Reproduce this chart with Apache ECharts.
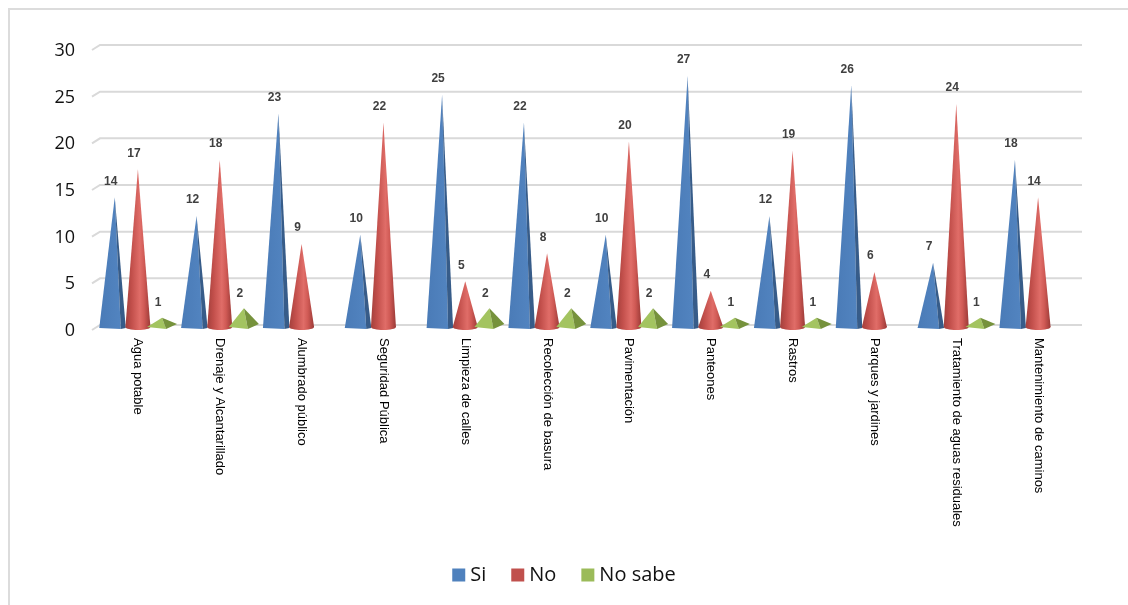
<!DOCTYPE html>
<html>
<head>
<meta charset="utf-8">
<script src="https://cdn.jsdelivr.net/npm/echarts@6/dist/echarts.min.js"></script>
<style>
  html, body { margin: 0; padding: 0; background: #fff; }
  #wrap { position: relative; width: 1128px; height: 605px; overflow: hidden; }
  #frame { position: absolute; left: 8px; top: 8px; width: 2000px; height: 2000px;
           border-left: 2px solid #dcdcdc; border-top: 2px solid #dcdcdc; }
  #chart { position: absolute; left: 0; top: 0; width: 1128px; height: 605px; }
</style>
</head>
<body>
<div id="wrap">
  <div id="frame"></div>
  <div id="chart"></div>
</div>
<script>
// Servicios públicos: respuestas por servicio
const categories = [
  'Agua potable', 'Drenaje y Alcantarillado', 'Alumbrado público', 'Seguridad Pública',
  'Limpieza de calles', 'Recolección de basura', 'Pavimentación', 'Panteones',
  'Rastros', 'Parques y jardines', 'Tratamiento de aguas residuales', 'Mantenimiento de caminos'
];
const si      = [14, 12, 23, 10, 25, 22, 10, 27, 12, 26, 7, 18];
const no      = [17, 18, 9, 22, 5, 8, 20, 4, 19, 6, 24, 14];
const noSabe  = [1, 2, null, null, 2, 2, 2, 1, 1, null, 1, null];
const yTicks  = [0, 5, 10, 15, 20, 25, 30];

const seriesNames = ['Si', 'No', 'No sabe'];
const colors = ['#4f81bd', '#c0504d', '#9bbb59'];

const G = echarts.graphic;
const DEPTH = 3;          // marks sit slightly in front of the back wall
const offsets = [-0.283, 0, 0.295];

function valueLabel(x, y, v) {
  return {
    type: 'text', z2: 10,
    style: {
      text: String(v), x: x - 4, y: y - 10,
      align: 'center', verticalAlign: 'bottom',
      font: 'bold 12px "Liberation Sans", Arial, sans-serif',
      fill: '#404040'
    }
  };
}

function renderCone(params, api) {
  const cat = api.value(0);
  const val = api.value(1);
  if (val == null || isNaN(val)) return;
  const s = params.seriesIndex;
  const band = api.size([1, 0])[0];
  const base = api.coord([cat, 0]);
  const top = api.coord([cat, val]);
  const cx = base[0] + offsets[s] * band;
  const by = base[1] + DEPTH;
  const ty = top[1] + DEPTH;
  const children = [];

  if (s === 0) {
    // pyramid: broad front face and a narrow shaded side face
    const L = cx - 15.5, R = cx + 11, D = cx + 6;
    children.push({
      type: 'polygon',
      shape: { points: [[L, by], [cx, ty], [D, by + 1]] },
      style: { fill: new G.LinearGradient(0, 0, 1, 0, [
        { offset: 0, color: '#4a7bb7' }, { offset: 1, color: '#5284c0' }]) }
    });
    children.push({
      type: 'polygon',
      shape: { points: [[cx, ty], [R, by], [D, by + 1]] },
      style: { fill: '#375c89' }
    });
  } else if (s === 1) {
    // round cone with a curved highlight
    const hw = 12.5;
    const grad = () => new G.LinearGradient(0, 0, 1, 0, [
      { offset: 0, color: '#a3403c' },
      { offset: 0.25, color: '#c24f4b' },
      { offset: 0.58, color: '#e06d68' },
      { offset: 0.75, color: '#d05a55' },
      { offset: 1, color: '#9a3936' }
    ]);
    children.push({
      type: 'ellipse',
      shape: { cx: cx, cy: by - 1, rx: hw, ry: 3 },
      style: { fill: grad() }
    });
    children.push({
      type: 'polygon',
      shape: { points: [[cx - hw, by - 1], [cx, ty], [cx + hw, by - 1]] },
      style: { fill: grad() }
    });
  } else {
    // low square pyramid seen from the front-right
    const L = cx - 15, R = cx + 15, F = cx + 4;
    children.push({
      type: 'polygon',
      shape: { points: [[L, by - 1], [cx, ty - 1], [F, by + 1]] },
      style: { fill: '#a3c460' }
    });
    children.push({
      type: 'polygon',
      shape: { points: [[cx, ty - 1], [R, by - 4], [F, by + 1]] },
      style: { fill: '#76923c' }
    });
  }
  children.push(valueLabel(cx, ty, val));
  return { type: 'group', children: children };
}

// back-wall grid lines with a short slanted lead-in at the left
function renderWall(params, api) {
  const v = api.value(1);
  const p = api.coord([0, v]);
  const cs = params.coordSys;
  const x0 = cs.x, x1 = cs.x + cs.width;
  return {
    type: 'polyline',
    shape: { points: [[x0 - 5, p[1] + 5], [x0 + 3, p[1]], [x1 + 3, p[1]]] },
    style: { stroke: '#d9d9d9', lineWidth: 2, fill: null }
  };
}

const toPairs = arr => arr.map((v, i) => [i, v]);
const seriesData = [si, no, noSabe];

const series = seriesNames.map((name, s) => ({
  name: name,
  type: 'custom',
  renderItem: renderCone,
  itemStyle: { color: colors[s] },
  encode: { x: 0, y: 1 },
  data: toPairs(seriesData[s]),
  z: 3
}));
series.push({
  name: 'grid',
  type: 'custom',
  renderItem: renderWall,
  encode: { x: 0, y: 1 },
  data: yTicks.map(v => [0, v]),
  silent: true,
  z: 1
});

const chart = echarts.init(document.getElementById('chart'), null, { renderer: 'canvas' });
chart.setOption({
  animation: false,
  backgroundColor: 'transparent',
  grid: { left: 97, right: 49, top: 45, bottom: 280, containLabel: false },
  legend: {
    data: seriesNames,
    bottom: 15,
    left: 'center',
    icon: 'rect',
    itemWidth: 13,
    itemHeight: 13,
    itemGap: 25,
    textStyle: { fontFamily: '"Open Sans", sans-serif', fontSize: 20, color: '#111' }
  },
  xAxis: {
    type: 'category',
    data: categories,
    axisLine: { show: false },
    axisTick: { show: false },
    splitLine: { show: false },
    axisLabel: {
      interval: 0,
      rotate: -90,
      margin: 13,
      color: '#000',
      fontSize: 13,
      fontFamily: '"Liberation Sans", Arial, sans-serif'
    }
  },
  yAxis: {
    type: 'value',
    min: 0, max: 30, interval: 5,
    axisLine: { show: false },
    axisTick: { show: false },
    splitLine: { show: false },
    axisLabel: {
      margin: 22,
      color: '#111',
      fontSize: 18,
      fontFamily: '"Open Sans", sans-serif',
      verticalAlign: 'top',
      lineHeight: 12
    }
  },
  series: series
});
</script>
</body>
</html>
